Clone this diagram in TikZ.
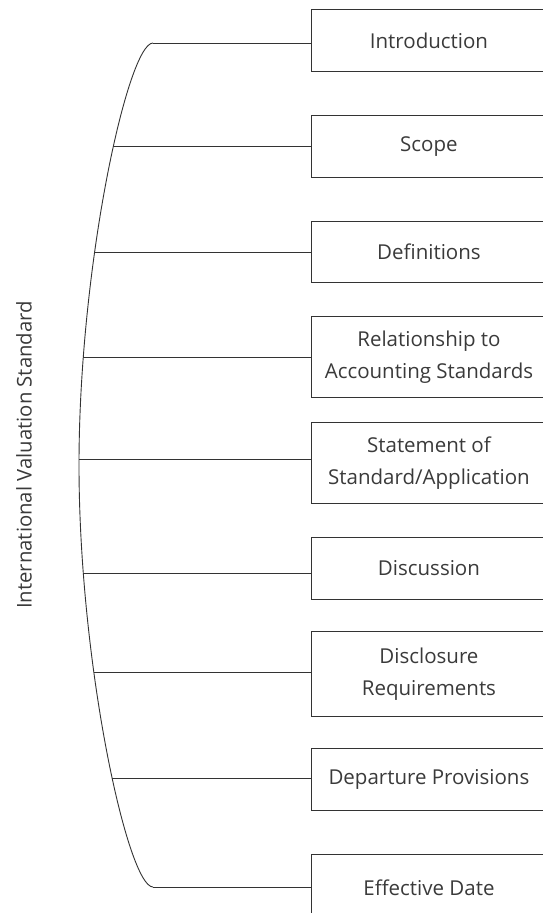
\documentclass[tikz,border=0pt]{standalone}
\usepackage{fontspec}
\setmainfont{Open Sans}
\usetikzlibrary{intersections}
\definecolor{ink}{HTML}{3A3A3A}
\definecolor{linec}{HTML}{333333}
\begin{document}
\begin{tikzpicture}[x=1pt,y=-1pt,
  box/.style={draw=linec, line width=0.9pt, rectangle, minimum width=235pt, inner sep=0pt,
    align=center, text=ink, font=\fontsize{20.5}{32}\selectfont, anchor=north west},
  conn/.style={draw=linec, line width=0.9pt},
  title/.style={text=ink, font=\fontsize{20.3}{24}\selectfont, rotate=90}]
\useasboundingbox (0,0) rectangle (543,913);
\clip (0,0) rectangle (543,913);
% boxes
\node[box, minimum height=62pt] (intro) at (311,9) {Introduction};
\node[box, minimum height=62pt] (scope) at (311,115) {Scope};
\node[box, minimum height=61pt] (defs) at (311,221) {Definitions};
\node[box, minimum height=81pt] (rel) at (311,316) {Relationship to\\Accounting Standards};
\node[box, minimum height=81pt] (stmt) at (311,422) {Statement of\\Standard/Application};
\node[box, minimum height=62pt] (disc) at (311,537) {Discussion};
\node[box, minimum height=85pt] (discl) at (311,631) {Disclosure\\Requirements};
\node[box, minimum height=62pt] (dep) at (311,748) {Departure Provisions};
\node[box, minimum height=66pt] (eff) at (311,854) {Effective Date};
% label
\node[title] (ivs) at (24,455) {International Valuation Standard};
% bracket curve
\coordinate (top) at (153,43);
\coordinate (mid) at (79,465);
\coordinate (bot) at (153,887);
\draw[conn, name path=curve] (top) .. controls (128,43) and (79,265) .. (mid)
  .. controls (79,665) and (128,887) .. (bot);
% horizontal guides for intersections
\path[name path=h2] (60,146) -- (200,146);
\path[name path=h3] (60,252) -- (200,252);
\path[name path=h4] (60,357) -- (200,357);
\path[name path=h5] (60,459) -- (200,459);
\path[name path=h6] (60,573) -- (200,573);
\path[name path=h7] (60,672) -- (200,672);
\path[name path=h8] (60,778) -- (200,778);
\path[name intersections={of=curve and h2, by=p2}];
\path[name intersections={of=curve and h3, by=p3}];
\path[name intersections={of=curve and h4, by=p4}];
\path[name intersections={of=curve and h5, by=p5}];
\path[name intersections={of=curve and h6, by=p6}];
\path[name intersections={of=curve and h7, by=p7}];
\path[name intersections={of=curve and h8, by=p8}];
% connectors
\draw[conn] (top) -- (top -| intro.west);
\draw[conn] (p2) -- (p2 -| scope.west);
\draw[conn] (p3) -- (p3 -| defs.west);
\draw[conn] (p4) -- (p4 -| rel.west);
\draw[conn] (p5) -- (p5 -| stmt.west);
\draw[conn] (p6) -- (p6 -| disc.west);
\draw[conn] (p7) -- (p7 -| discl.west);
\draw[conn] (p8) -- (p8 -| dep.west);
\draw[conn] (bot) -- (bot -| eff.west);
\end{tikzpicture}
\end{document}
